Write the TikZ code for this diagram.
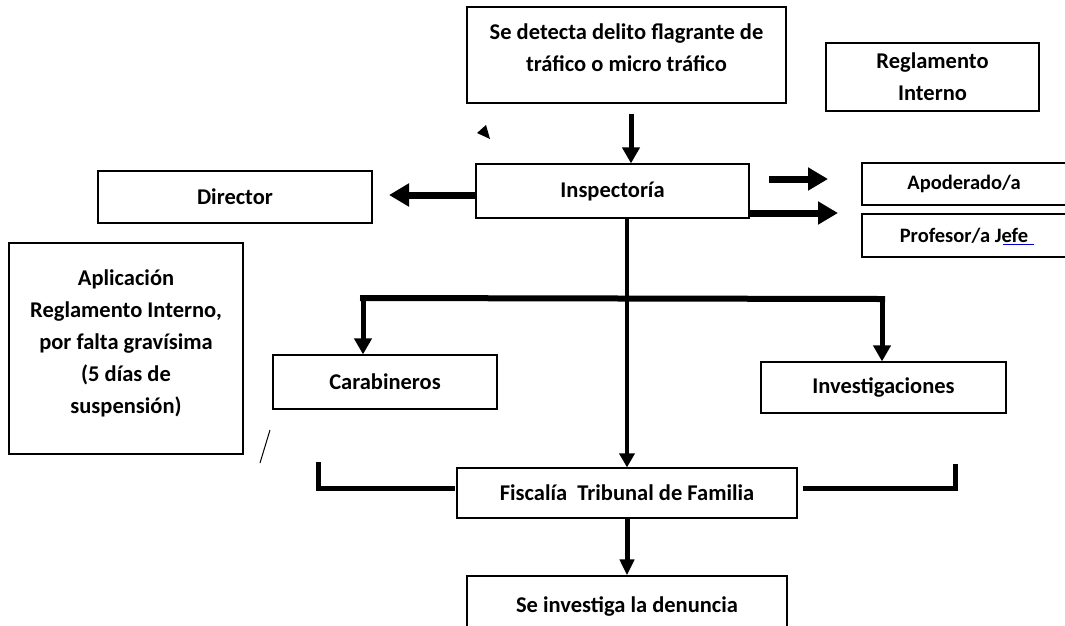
\documentclass[tikz,border=0pt]{standalone}
\usepackage{fontspec}
\setmainfont{Carlito}
\usetikzlibrary{arrows.meta}
\begin{document}
\begin{tikzpicture}[x=1pt,y=-1pt,
  box/.style={draw=black,line width=1.2pt,inner sep=0pt,font=\bfseries\fontsize{22.5}{32}\selectfont,align=center},
  small/.style={font=\bfseries\fontsize{20.5}{28}\selectfont},
  thick line/.style={line width=6pt},
  arr/.style={line width=5pt,-{Triangle[length=16pt,width=17pt]}},
  bigarr/.style={line width=7pt,-{Triangle[length=20pt,width=22pt]}}]
\useasboundingbox (0,0) rectangle (1065,625);
\fill[white] (0,0) rectangle (1065,625);
% boxes
\node[box,minimum width=319pt,minimum height=96pt] (top) at (626.5,55) {Se detecta delito flagrante de\\tráfico o micro tráfico\\[-18pt]\mbox{}};
\node[box,minimum width=213pt,minimum height=68pt] (reg) at (932.5,77) {Reglamento\\Interno};
\node[box,minimum width=273pt,minimum height=54pt] (insp) at (612.5,191) {Inspectoría};
\node[box,minimum width=274pt,minimum height=52pt] (dir) at (235,197) {Director};
\node[box,small,minimum width=204pt,minimum height=42pt] (apo) at (964,184) {Apoderado/a};
\node[box,small,minimum width=204pt,minimum height=43pt] (prof) at (964,235.5) {Profesor/a Jefe};
\node[box,minimum width=234pt,minimum height=211pt] (apl) at (126,348.5) {Aplicación\\Reglamento Interno,\\por falta gravísima\\(5 días de\\suspensión)\\[-18pt]\mbox{}};
\node[box,minimum width=224pt,minimum height=54pt] (car) at (385,382) {Carabineros};
\node[box,minimum width=245pt,minimum height=51pt] (inv) at (883.5,387.5) {Investigaciones};
\node[box,minimum width=340pt,minimum height=50pt] (fis) at (627,493) {Fiscalía\ \ Tribunal\ de Familia};
\node[box,minimum width=320pt,minimum height=60pt] (den) at (627,606) {Se investiga\ la denuncia};
% spell-check underline under "Jefe"
\draw[blue!80!black,line width=0.9pt] (prof.center) ++(39,9) -- ++(31,0);
% connectors
\coordinate (t1) at (631,114);
\coordinate (i1) at (627,0);
\coordinate (c1) at (363,0);
\coordinate (v1) at (882,0);
\draw[arr] (t1) -- (t1 |- insp.north);
\draw[bigarr] (insp.west |- 0,195) -- (389,195);
\coordinate (a1) at (769,179);
\draw[bigarr] (a1) -- (828,179);
\draw[bigarr] (insp.east |- 0,213) -- (838,213);
\draw[line width=4.5pt,-{Triangle[length=14pt,width=15pt]}] (i1 |- insp.south) -- (i1 |- fis.north);
\draw[thick line,line cap=rect] (363,298) -- (882,299);
\draw[arr] (363,296) -- (c1 |- car.north);
\draw[arr] (882,297) -- (v1 |- inv.north);
% brackets near Fiscalía
\draw[line width=5pt,line join=miter] (318,462) -- (318,488) -- (455,488);
\draw[line width=5pt,line join=miter] (803,488) -- (955,488) -- (955,464);
\draw[line width=5pt,-{Triangle[length=16pt,width=14pt]}] (i1 |- fis.south) -- (i1 |- den.north);
% stray marks
\fill (477,133) -- (486,125) -- (490,139) -- cycle;
\draw[line width=1pt] (270,430) -- (260,463);
\end{tikzpicture}
\end{document}
